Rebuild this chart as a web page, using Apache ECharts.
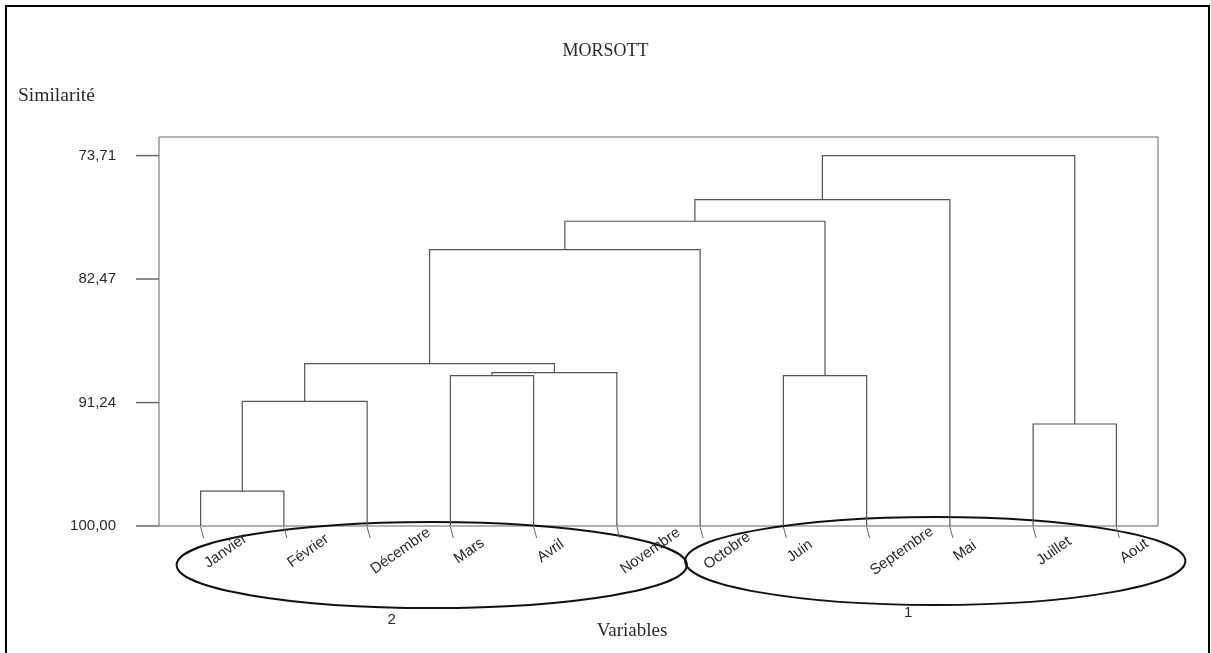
<!DOCTYPE html>
<html>
<head>
<meta charset="utf-8">
<script src="https://cdn.jsdelivr.net/npm/echarts@6/dist/echarts.min.js"></script>
<style>
  html, body { margin: 0; padding: 0; background: #fff; }
  #chart { width: 1211px; height: 653px; }
</style>
</head>
<body>
<div id="chart"></div>
<script>
// Leaves of the dendrogram, left to right
const leaves = ['Janvier', 'Février', 'Décembre', 'Mars', 'Avril', 'Novembre',
                'Octobre', 'Juin', 'Septembre', 'Mai', 'Juillet', 'Aout'];

// Agglomeration steps: step s joins mergeLeft[s] and mergeRight[s] into node 12 + s
const mergeLeft  = [0, 10, 12, 3, 7, 15, 14, 18, 19, 20, 21];
const mergeRight = [1, 11, 2, 4, 8, 5, 17, 6, 16, 9, 13];
const mergeLevel = [97.53, 92.76, 91.15, 89.33, 89.33, 89.11, 88.47, 80.38, 78.37, 76.83, 73.71];

// Similarity axis tick values
const yTicks = [73.71, 82.47, 91.24, 100.00];

// Cluster groups circled under the axis
const groupNames  = ['2', '1'];
const groupFirst  = [0, 6];
const groupLast   = [5, 11];

// ---- build node positions / heights
const nodeX = leaves.map((_, i) => i);
const nodeH = leaves.map(() => 100);
const links = [];
mergeLeft.forEach((a, s) => {
  const b = mergeRight[s];
  const lvl = mergeLevel[s];
  links.push([nodeX[a], nodeH[a], nodeX[b], nodeH[b], lvl]);
  nodeX.push((nodeX[a] + nodeX[b]) / 2);
  nodeH.push(lvl);
});

const LINE = '#555';
const TEXT = '#2b2b2b';
const SANS = '"Liberation Sans", Arial, sans-serif';
const SERIF = '"Liberation Serif", "Times New Roman", serif';
const LABEL_FONT = '15px ' + SANS;
const ANGLE = 35 * Math.PI / 180;
const X_MIN = -0.5;

const measureCtx = document.createElement('canvas').getContext('2d');
measureCtx.font = LABEL_FONT;

const chart = echarts.init(document.getElementById('chart'), null, { renderer: 'canvas' });

chart.setOption({
  animation: false,
  backgroundColor: '#fff',
  grid: {
    left: 159, right: 53, top: 137, bottom: 127,
    show: true, borderColor: '#666', borderWidth: 1, backgroundColor: 'transparent'
  },
  xAxis: {
    type: 'value', min: X_MIN, max: leaves.length - 0.5,
    axisLine: { show: false }, axisTick: { show: false },
    axisLabel: { show: false }, splitLine: { show: false }
  },
  yAxis: {
    type: 'value', inverse: true, min: 72.39, max: 100,
    axisLine: { show: false },
    splitLine: { show: false },
    axisTick: { show: false },
    axisLabel: {
      show: true, margin: 43, customValues: yTicks,
      color: TEXT, fontSize: 15, fontFamily: SANS,
      formatter: v => Number(v).toFixed(2).replace('.', ',')
    }
  },
  series: [
    {
      // dendrogram branches
      type: 'custom',
      clip: false,
      encode: { x: [0, 2], y: [1, 3, 4] },
      data: links,
      renderItem: (params, api) => {
        const xa = api.value(0), ha = api.value(1);
        const xb = api.value(2), hb = api.value(3), lvl = api.value(4);
        const pts = [
          api.coord([xa, ha]), api.coord([xa, lvl]),
          api.coord([xb, lvl]), api.coord([xb, hb])
        ];
        return {
          type: 'polyline',
          shape: { points: pts },
          style: { stroke: LINE, lineWidth: 1.2, fill: null }
        };
      }
    },
    {
      // similarity tick marks, outside the left frame edge
      type: 'custom',
      clip: false,
      encode: { x: 0, y: 1 },
      data: yTicks.map(v => [X_MIN, v]),
      renderItem: (params, api) => {
        const p = api.coord([api.value(0), api.value(1)]);
        return {
          type: 'line',
          shape: { x1: p[0] - 23, y1: p[1], x2: p[0], y2: p[1] },
          style: { stroke: '#666', lineWidth: 1.5 }
        };
      }
    },
    {
      // leaf ticks and rotated leaf names
      type: 'custom',
      clip: false,
      encode: { x: 0, y: 1 },
      data: leaves.map((_, i) => [i, 100]),
      renderItem: (params, api) => {
        const p = api.coord([api.value(0), api.value(1)]);
        const name = leaves[params.dataIndex];
        const w = measureCtx.measureText(name).width;
        const boxW = w * Math.cos(ANGLE) + 11 * Math.sin(ANGLE);
        return {
          type: 'group',
          children: [
            {
              type: 'line',
              shape: { x1: p[0], y1: p[1] + 1, x2: p[0] + 3, y2: p[1] + 12 },
              style: { stroke: '#666', lineWidth: 1 }
            },
            {
              type: 'text',
              x: p[0] + 2 + boxW / 2,
              y: p[1] + 25,
              rotation: ANGLE,
              style: {
                text: name, font: LABEL_FONT, fill: TEXT,
                align: 'center', verticalAlign: 'middle'
              }
            }
          ]
        };
      }
    }
  ]
});

// ---- annotations: frame, titles, cluster outlines
const px = i => chart.convertToPixel({ gridIndex: 0 }, [i, 100]);
const outlineStyle = [
  { dx: 23, pad: 47, cy: 565, ry: 43, labelDx: -40, labelDy: 55 },
  { dx: 27, pad: 42, cy: 561, ry: 44, labelDx: -27, labelDy: 52 }
];

const graphics = [
  {
    type: 'rect', silent: true,
    shape: { x: 6, y: 6, width: 1203, height: 660 },
    style: { fill: null, stroke: '#000', lineWidth: 2 }
  },
  {
    type: 'text', x: 605.5, y: 51,
    style: { text: 'MORSOTT', font: '18px ' + SERIF, fill: TEXT, align: 'center', verticalAlign: 'middle' }
  },
  {
    type: 'text', x: 18, y: 96,
    style: { text: 'Similarité', font: '19.5px ' + SERIF, fill: TEXT, align: 'left', verticalAlign: 'middle' }
  },
  {
    type: 'text', x: 632, y: 631,
    style: { text: 'Variables', font: '19px ' + SERIF, fill: TEXT, align: 'center', verticalAlign: 'middle' }
  }
];

groupNames.forEach((g, k) => {
  const a = px(groupFirst[k])[0];
  const b = px(groupLast[k])[0];
  const st = outlineStyle[k];
  const cx = (a + b) / 2 + st.dx;
  graphics.push({
    type: 'ellipse', silent: true,
    shape: { cx: cx, cy: st.cy, rx: (b - a) / 2 + st.pad, ry: st.ry },
    style: { fill: null, stroke: '#111', lineWidth: 2 }
  });
  graphics.push({
    type: 'text', x: cx + st.labelDx, y: st.cy + st.labelDy,
    style: { text: g, font: '15px ' + SANS, fill: TEXT, align: 'center', verticalAlign: 'middle' }
  });
});

chart.setOption({ graphic: graphics });
</script>
</body>
</html>
